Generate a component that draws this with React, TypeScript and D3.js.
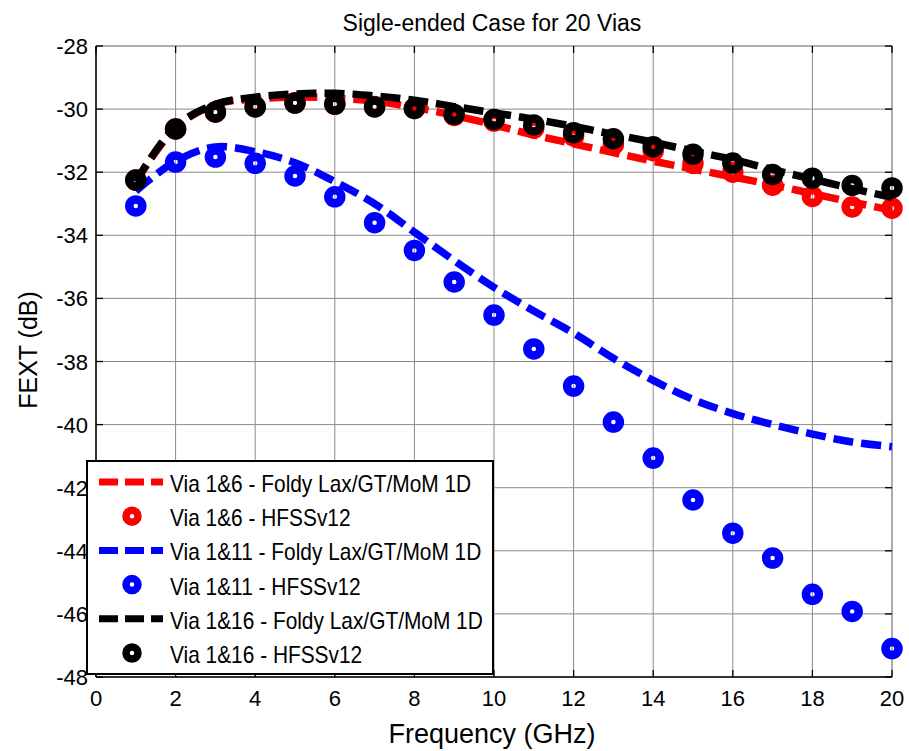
import React from "react";
import * as d3 from "d3";

const freqs = [1, 2, 3, 4, 5, 6, 7, 8, 9, 10, 11, 12, 13, 14, 15, 16, 17, 18, 19, 20];

const redLine = [-32.3, -30.6, -29.85, -29.68, -29.62, -29.65, -29.75, -29.95, -30.2, -30.5, -30.82, -31.1, -31.38, -31.65, -31.9, -32.15, -32.4, -32.68, -32.95, -33.2];
const redHfss = [-32.25, -30.63, -30.1, -29.92, -29.8, -29.85, -29.92, -29.98, -30.2, -30.38, -30.6, -30.85, -31.12, -31.32, -31.72, -32.0, -32.41, -32.77, -33.1, -33.14];

const blueLine = [-32.6, -31.65, -31.2, -31.35, -31.7, -32.3, -33.0, -33.9, -34.8, -35.65, -36.4, -37.1, -37.9, -38.6, -39.2, -39.65, -40.0, -40.3, -40.55, -40.7];
const blueHfss = [-33.07, -31.68, -31.52, -31.72, -32.12, -32.78, -33.6, -34.48, -35.48, -36.53, -37.6, -38.78, -39.92, -41.06, -42.39, -43.44, -44.23, -45.38, -45.92, -47.1];

const blackLine = [-32.3, -30.55, -29.85, -29.62, -29.52, -29.5, -29.58, -29.72, -29.92, -30.12, -30.32, -30.55, -30.8, -31.05, -31.33, -31.6, -31.92, -32.22, -32.52, -32.8];
const blackHfss = [-32.25, -30.63, -30.09, -29.93, -29.81, -29.84, -29.93, -29.98, -30.17, -30.33, -30.5, -30.75, -30.94, -31.19, -31.43, -31.71, -32.07, -32.19, -32.42, -32.5];

const xTicks = [0, 2, 4, 6, 8, 10, 12, 14, 16, 18, 20];
const yTicks = [-28, -30, -32, -34, -36, -38, -40, -42, -44, -46, -48];

const seriesNames = ["Via 1&6", "Via 1&11", "Via 1&16"];
const seriesColors = ["#ff0000", "#0000ff", "#000000"];
const lineSuffix = " - Foldy Lax/GT/MoM 1D";
const markerSuffix = " - HFSSv12";

const titleText = "Sigle-ended Case for 20 Vias";
const xLabel = "Frequency (GHz)";
const yLabel = "FEXT (dB)";

const FONT = "'Liberation Sans', Arial, Helvetica, sans-serif";

export default function App() {
  const x = d3.scaleLinear().domain([0, 20]).range([96, 892]);
  const y = d3.scaleLinear().domain([-48, -28]).range([677, 46]);

  const lineGen = d3
    .line<[number, number]>()
    .x((d) => x(d[0]))
    .y((d) => y(d[1]))
    .curve(d3.curveCatmullRom.alpha(0.5));

  const lines = [redLine, blueLine, blackLine];
  const marks = [redHfss, blueHfss, blackHfss];

  const legendEntries: { kind: "line" | "marker"; color: string; label: string }[] = [];
  seriesNames.forEach((n, i) => {
    legendEntries.push({ kind: "line", color: seriesColors[i], label: n + lineSuffix });
    legendEntries.push({ kind: "marker", color: seriesColors[i], label: n + markerSuffix });
  });

  const [x0, x1] = x.range();
  const [yb, yt] = y.range();

  return (
    <svg
      width={909}
      height={751}
      style={{ position: "absolute", left: 0, top: 0, background: "#fff" }}
      fontFamily={FONT}
    >
      <rect x={0} y={0} width={909} height={751} fill="#fff" />
      {/* grid */}
      {xTicks.map((t) => (
        <line key={"gx" + t} x1={x(t)} x2={x(t)} y1={yt} y2={yb} stroke="#8a8a8a" strokeWidth={1} />
      ))}
      {yTicks.map((t) => (
        <line key={"gy" + t} x1={x0} x2={x1} y1={y(t)} y2={y(t)} stroke="#8a8a8a" strokeWidth={1} />
      ))}
      {/* top/right box */}
      <line x1={x0} x2={x1} y1={yt} y2={yt} stroke="#999" strokeWidth={1.2} />
      <line x1={x1} x2={x1} y1={yt} y2={yb} stroke="#999" strokeWidth={1.2} />
      {/* ticks */}
      {xTicks.map((t) => (
        <g key={"tx" + t}>
          <line x1={x(t)} x2={x(t)} y1={yb} y2={yb - 7} stroke="#000" strokeWidth={1.3} />
          <line x1={x(t)} x2={x(t)} y1={yt} y2={yt + 7} stroke="#000" strokeWidth={1.3} />
        </g>
      ))}
      {yTicks.map((t) => (
        <g key={"ty" + t}>
          <line x1={x0} x2={x0 + 7} y1={y(t)} y2={y(t)} stroke="#000" strokeWidth={1.3} />
          <line x1={x1} x2={x1 - 7} y1={y(t)} y2={y(t)} stroke="#000" strokeWidth={1.3} />
        </g>
      ))}
      {/* data */}
      {lines.map((vals, i) => (
        <g key={"s" + i}>
          <path
            d={lineGen(freqs.map((f, k) => [f, vals[k]] as [number, number])) || ""}
            fill="none"
            stroke={seriesColors[i]}
            strokeWidth={7.5}
            strokeDasharray="20 8"
          />
          {marks[i].map((v, k) => (
            <circle
              key={k}
              cx={x(freqs[k])}
              cy={y(v)}
              r={6.5}
              fill="none"
              stroke={seriesColors[i]}
              strokeWidth={8.5}
            />
          ))}
        </g>
      ))}
      {/* axes */}
      <line x1={x0} x2={x1} y1={yb} y2={yb} stroke="#000" strokeWidth={1.5} />
      <line x1={x0} x2={x0} y1={yt} y2={yb} stroke="#000" strokeWidth={1.5} />
      {/* tick labels */}
      {xTicks.map((t) => (
        <text key={"lx" + t} x={x(t)} y={706} fontSize={22} textAnchor="middle" fill="#000">
          {t}
        </text>
      ))}
      {yTicks.map((t) => (
        <text key={"ly" + t} x={88} y={y(t) + 8} fontSize={22} textAnchor="end" fill="#000">
          {t}
        </text>
      ))}
      {/* legend */}
      <rect x={87} y={461} width={406} height={213} fill="#fff" stroke="#000" strokeWidth={2} />
      {legendEntries.map((e, i) => {
        const ry = 482 + i * 34.2;
        return (
          <g key={"lg" + i}>
            {e.kind === "line" ? (
              <line x1={99} x2={163} y1={ry} y2={ry} stroke={e.color} strokeWidth={7} strokeDasharray="19 7" />
            ) : (
              <circle cx={132} cy={ry} r={6} fill="none" stroke={e.color} strokeWidth={7.5} />
            )}
            <g transform={`translate(170,${ry + 10}) scale(0.87,1)`}>
              <text x={0} y={0} fontSize={24} fill="#000">
                {e.label}
              </text>
            </g>
          </g>
        );
      })}
      {/* labels */}
      <text x={492} y={31} fontSize={23} textAnchor="middle" fill="#000">
        {titleText}
      </text>
      <text x={492} y={743} fontSize={27} textAnchor="middle" fill="#000">
        {xLabel}
      </text>
      <text transform={`translate(37,350) rotate(-90)`} fontSize={25} textAnchor="middle" fill="#000">
        {yLabel}
      </text>
    </svg>
  );
}
